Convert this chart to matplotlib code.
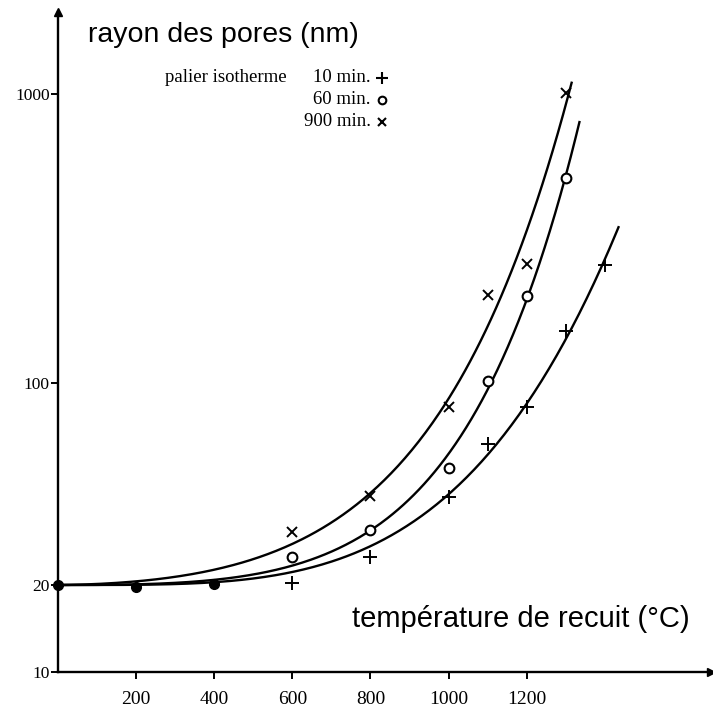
import numpy as np
import matplotlib.pyplot as plt

# temperatures de recuit (°C) et rayons des pores (nm)
temp_10 = [600, 800, 1000, 1100, 1200, 1300, 1400]
rayon_10 = [20.3, 25.1, 40.4, 61.5, 82.6, 151, 256]
temp_60 = [600, 800, 1000, 1100, 1200, 1300]
rayon_60 = [25.0, 31.0, 50.8, 101.6, 200, 513]
temp_900 = [600, 800, 1000, 1100, 1200, 1300]
rayon_900 = [30.5, 40.6, 82.6, 201, 258, 1007]
# points communs aux trois paliers
temp_commun = [0, 200, 400]
rayon_commun = [20, 19.7, 20.2]
r0 = 20  # rayon initial

# fin des courbes tracees
fin_10, fin_60, fin_900 = 1435, 1335, 1315

xticks = [200, 400, 600, 800, 1000, 1200]
yticks = [10, 20, 100, 1000]

plt.rcParams['font.family'] = ['Liberation Serif']

fig = plt.figure(figsize=(7.13, 7.11), dpi=100)
ax = fig.add_axes([0.0813, 0.0549, 0.916, 0.928])


def courbe(tx, ry, fin):
    # ajustement log(r/r0) = b * (T/1000)^n * exp(k*T), n et k sur une grille
    x = np.array(temp_commun + tx, dtype=float) / 1000
    y = np.log10(np.array(rayon_commun + ry, dtype=float) / r0)
    best = None
    for n in np.arange(0.5, 8.0, 0.05):
        for k in np.arange(0, 6.0, 0.05):
            g = x ** n * np.exp(k * x)
            b = np.sum(g * y) / np.sum(g * g)
            err = np.sum((b * g - y) ** 2)
            if best is None or err < best[0]:
                best = (err, n, k, b)
    _, n, k, b = best
    xx = np.linspace(0, fin, 300)
    return xx, r0 * 10 ** (b * (xx / 1000) ** n * np.exp(k * xx / 1000))


for tx, ry, fin in [(temp_10, rayon_10, fin_10), (temp_60, rayon_60, fin_60),
                    (temp_900, rayon_900, fin_900)]:
    xx, yy = courbe(tx, ry, fin)
    ax.plot(xx, yy, color='black', lw=1.7)

ax.plot(temp_10, rayon_10, '+', color='black', ms=10, mew=1.4)
ax.plot(temp_60, rayon_60, 'o', color='black', mfc='white', ms=7, mew=1.5)
ax.plot(temp_900, rayon_900, 'x', color='black', ms=7, mew=1.4)
ax.plot(temp_commun, rayon_commun, 'o', color='black', ms=7, clip_on=False, zorder=5)

ax.set_yscale('log')
ax.set_xlim(0, 1672)
ax.set_ylim(10, 1923)
ax.set_xticks(xticks)
ax.set_xticklabels([str(t) for t in xticks], fontsize=14)
ax.set_yticks(yticks)
ax.set_yticklabels([str(t) for t in yticks], fontsize=12.5)
ax.minorticks_off()
ax.tick_params(axis='both', direction='out', length=5, width=1.4, pad=1)
ax.tick_params(axis='x', pad=9)

for s in ['top', 'right']:
    ax.spines[s].set_visible(False)
for s in ['left', 'bottom']:
    ax.spines[s].set_linewidth(1.7)

# fleches aux bouts des axes
ax.plot(1, 0, '>', color='black', ms=6, transform=ax.transAxes, clip_on=False)
ax.plot(0, 1, '^', color='black', ms=6, transform=ax.transAxes, clip_on=False)

fig.text(88 / 713, 1 - 35 / 711, 'rayon des pores (nm)', fontsize=20.5,
         family='Liberation Sans', va='center', ha='left')
fig.text(690 / 713, 1 - 619 / 711, 'température de recuit (°C)', fontsize=21,
         family='Liberation Sans', va='center', ha='right')

# legende
fig.text(165 / 713, 1 - 78 / 711, 'palier isotherme', fontsize=13.5, va='center')
legende = [('10 min.', '+', 9, 'black'), ('60 min.', 'o', 5.5, 'white'),
           ('900 min.', 'x', 6, 'black')]
for i, (lab, m, ms, fc) in enumerate(legende):
    yy = 1 - (78 + 22 * i) / 711
    fig.text(371 / 713, yy, lab, fontsize=13.5, va='center', ha='right')
    ax.plot([382 / 713], [yy], m, color='black', mfc=fc, ms=ms, mew=1.5,
            transform=fig.transFigure, clip_on=False)

fig.savefig('out.png', dpi=100)
